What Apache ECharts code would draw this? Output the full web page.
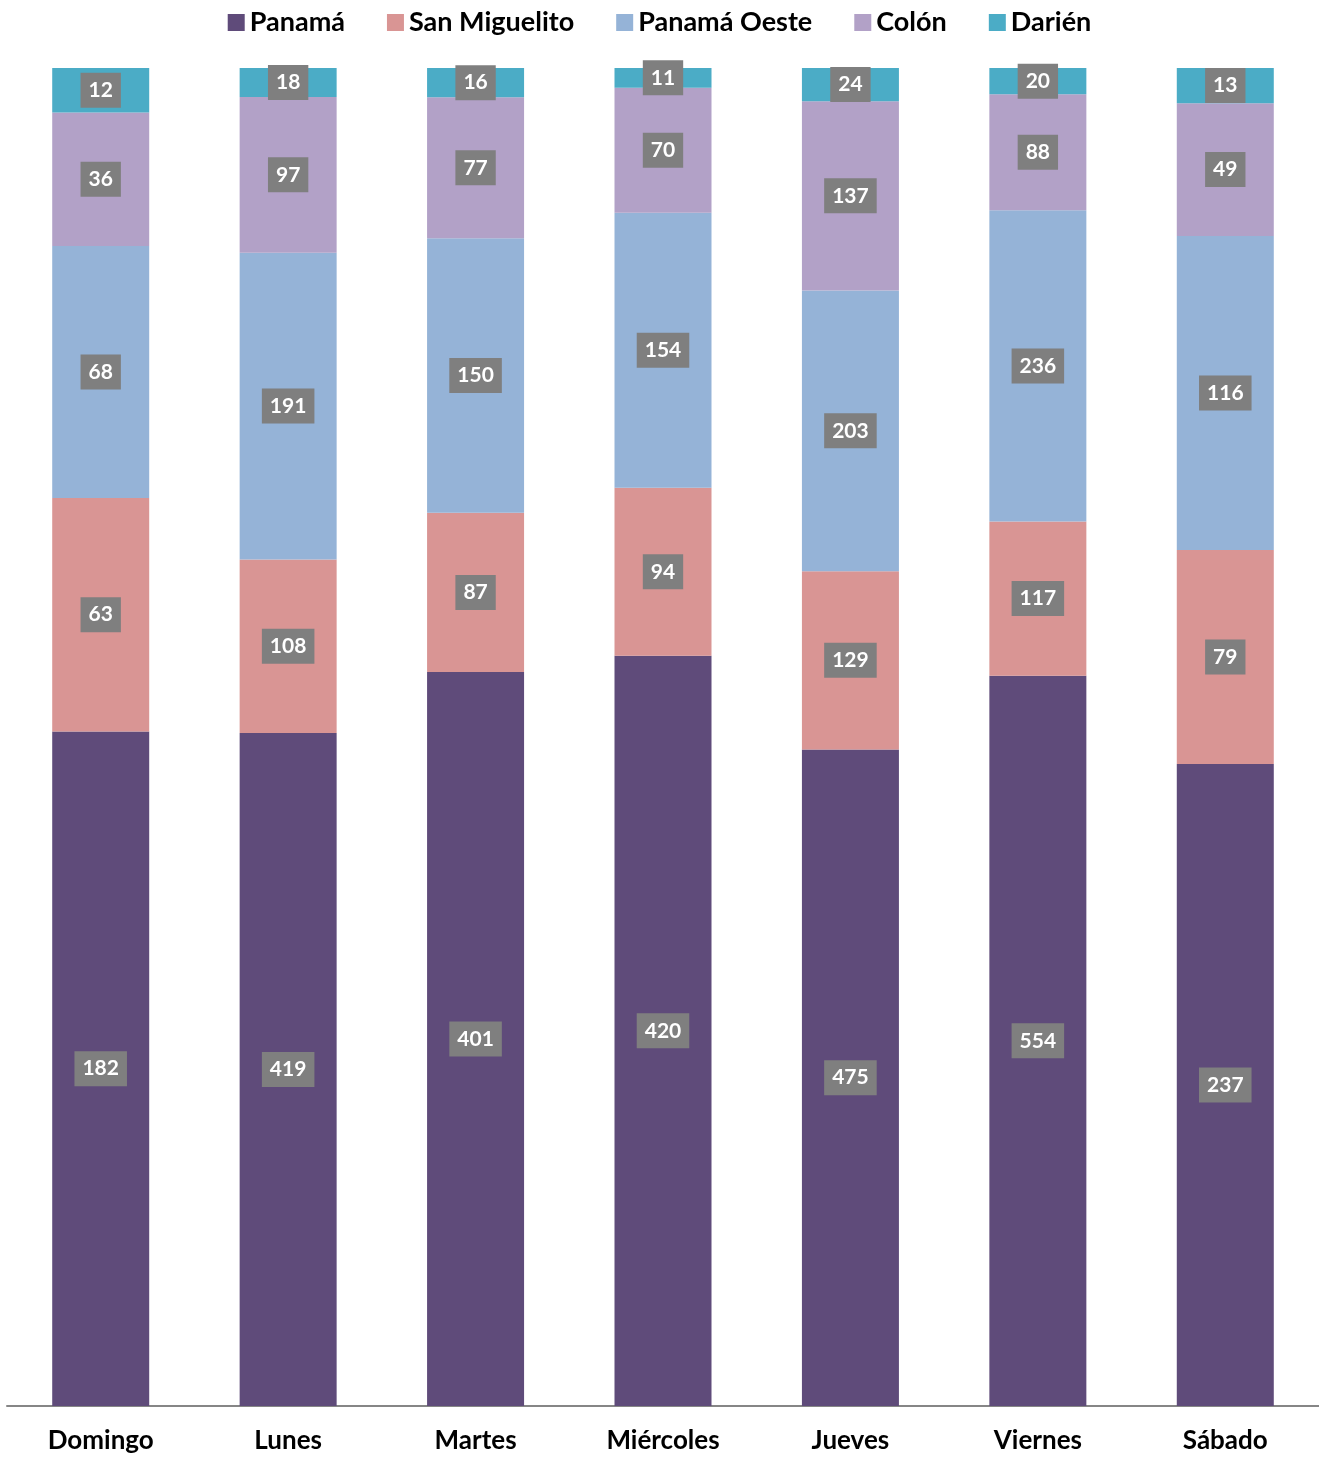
<!DOCTYPE html>
<html><head><meta charset="utf-8">
<script src="https://cdn.jsdelivr.net/npm/echarts@6/dist/echarts.min.js"></script>
<style>html,body{margin:0;padding:0;background:#fff}#c{width:1319px;height:1458px}</style>
</head><body><div id="c"></div>
<script>
const categories = ['Domingo','Lunes','Martes','Miércoles','Jueves','Viernes','Sábado'];
const seriesNames = ['Panamá','San Miguelito','Panamá Oeste','Colón','Darién'];
const panama = [182,419,401,420,475,554,237];
const sanMiguelito = [63,108,87,94,129,117,79];
const panamaOeste = [68,191,150,154,203,236,116];
const colon = [36,97,77,70,137,88,49];
const darien = [12,18,16,11,24,20,13];
const colors = ['#5F4B7A','#D99594','#95B3D7','#B2A1C7','#4BACC6'];

const raw = [panama, sanMiguelito, panamaOeste, colon, darien];
const totals = categories.map((_, i) => raw.reduce((s, arr) => s + arr[i], 0));

const chart = echarts.init(document.getElementById('c'));
chart.setOption({
  animation: false,
  legend: {
    top: 4, left: 'center', itemWidth: 17, itemHeight: 17, itemGap: 42,
    icon: 'rect',
    textStyle: {fontFamily: 'Lato', fontWeight: 'bold', fontSize: 27, color: '#000'},
    data: seriesNames
  },
  grid: {left: 7, right: 0, top: 68, bottom: 52, containLabel: false},
  xAxis: {
    type: 'category', data: categories,
    axisLine: {lineStyle: {color: '#868686', width: 2}},
    axisTick: {show: false},
    axisLabel: {margin: 22, fontFamily: 'Lato', fontWeight: 'bold', fontSize: 26, color: '#000'}
  },
  yAxis: {type: 'value', min: 0, max: 100, show: false, splitLine: {show: false}},
  series: raw.map((arr, si) => ({
    name: seriesNames[si], type: 'bar', stack: 'total', barWidth: 97,
    itemStyle: {color: colors[si]},
    data: arr.map((v, i) => v / totals[i] * 100),
    label: {
      show: true, position: 'inside',
      formatter: p => String(arr[p.dataIndex]),
      color: '#fff', fontFamily: 'Lato', fontWeight: 'bold', fontSize: 21,
      backgroundColor: '#7F7F7F', padding: [8, 8, 6, 8]
    }
  }))
});
</script></body></html>
